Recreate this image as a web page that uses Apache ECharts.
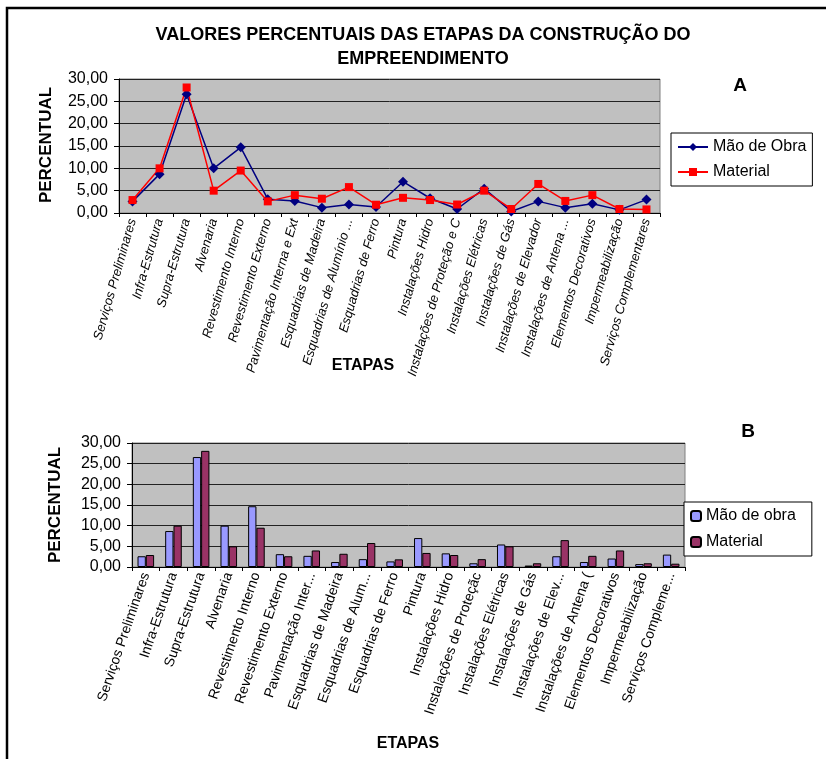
<!DOCTYPE html>
<html>
<head>
<meta charset="utf-8">
<script src="https://cdn.jsdelivr.net/npm/echarts@6/dist/echarts.min.js"></script>
<style>
html,body{margin:0;padding:0;background:#fff;}
#c{width:826px;height:759px;}
</style>
</head>
<body>
<div id="c"></div>
<script>
// ---- data ----
var categories = ['Serviços Preliminares','Infra-Estrutura','Supra-Estrutura','Alvenaria','Revestimento Interno','Revestimento Externo','Pavimentação Interna e Externa','Esquadrias de Madeira','Esquadrias de Alumínio','Esquadrias de Ferro','Pintura','Instalações Hidro','Instalações de Proteção e Combate','Instalações Elétricas','Instalações de Gás','Instalações de Elevador','Instalações de Antena','Elementos Decorativos','Impermeabilização','Serviços Complementares'];
var labelsA = ['Serviços Preliminares','Infra-Estrutura','Supra-Estrutura','Alvenaria','Revestimento Interno','Revestimento Externo','Pavimentação Interna e Ext','Esquadrias de Madeira','Esquadrias de Alumínio ...','Esquadrias de Ferro','Pintura','Instalações Hidro','Instalações de Proteção e C','Instalações Elétricas','Instalações de Gás','Instalações de Elevador','Instalações de Antena ...','Elementos Decorativos','Impermeabilização','Serviços Complementares'];
var labelsB = ['Serviços Preliminares','Infra-Estrutura','Supra-Estrutura','Alvenaria','Revestimento Interno','Revestimento Externo','Pavimentação Inter...','Esquadrias de Madeira','Esquadrias de Alum...','Esquadrias de Ferro','Pintura','Instalações Hidro','Instalações de Proteçãc','Instalações Elétricas','Instalações de Gás','Instalações de Elev...','Instalações de Antena (','Elementos Decorativos','Impermeabilização','Serviços Compleme...'];
var maoDeObra = [2.6, 8.7, 26.6, 10.0, 14.7, 3.1, 2.7, 1.2, 1.9, 1.35, 7.0, 3.3, 0.9, 5.45, 0.35, 2.6, 1.2, 2.05, 0.7, 3.0];
var material  = [2.9, 10.0, 28.1, 5.0, 9.5, 2.6, 4.0, 3.2, 5.8, 1.85, 3.4, 2.9, 1.9, 5.0, 0.9, 6.5, 2.7, 4.0, 0.9, 0.8];
var yTicks = [0, 5, 10, 15, 20, 25, 30];

var FONT = 'Liberation Sans, Arial, sans-serif';
function fmt(v){ return v.toFixed(2).replace('.', ','); }

var chart = echarts.init(document.getElementById('c'), null, {renderer:'canvas'});
var yCommon = {
  type:'value', min:yTicks[0], max:yTicks[yTicks.length-1], interval:yTicks[1]-yTicks[0],
  axisLine:{show:true, lineStyle:{color:'#000', width:1}},
  axisTick:{show:true, inside:false, length:5, lineStyle:{color:'#000'}},
  axisLabel:{formatter:fmt, color:'#000', fontFamily:FONT, fontSize:16, margin:11},
  splitLine:{show:true, lineStyle:{color:'#222', width:1}}
};
var xCommon = {
  type:'category', data:categories, boundaryGap:true,
  axisLine:{show:true, lineStyle:{color:'#000', width:1}},
  axisTick:{show:true, alignWithLabel:false, length:4, lineStyle:{color:'#000'}},
  splitLine:{show:false}
};
chart.setOption({
  animation:false,
  backgroundColor:'#fff',
  textStyle:{fontFamily:FONT},
  title:[{
    text:'VALORES PERCENTUAIS DAS ETAPAS DA CONSTRUÇÃO DO\nEMPREENDIMENTO',
    left:418, top:18, textAlign:'center',
    textStyle:{fontFamily:FONT, fontSize:18, fontWeight:'bold', color:'#000', lineHeight:24}
  }],
  grid:[
    {left:119, top:79, width:541, height:134, show:true, backgroundColor:'#C0C0C0', borderColor:'#808080', borderWidth:1},
    {left:132, top:443, width:553, height:124, show:true, backgroundColor:'#C0C0C0', borderColor:'#808080', borderWidth:1}
  ],
  xAxis:[
    Object.assign({}, xCommon, {gridIndex:0, axisLabel:{interval:0, rotate:74, margin:6, color:'#000', fontFamily:FONT, fontSize:13, fontStyle:'italic', formatter:function(v,i){return labelsA[i];}}}),
    Object.assign({}, xCommon, {gridIndex:1, axisLabel:{interval:0, rotate:71, margin:6, color:'#000', fontFamily:FONT, fontSize:14, formatter:function(v,i){return labelsB[i];}}})
  ],
  yAxis:[
    Object.assign({}, yCommon, {gridIndex:0}),
    Object.assign({}, yCommon, {gridIndex:1})
  ],
  legend:[
    {
      data:['Mão de Obra','Material'], orient:'vertical', left:671, top:133,
      itemWidth:30, itemHeight:10, itemGap:9,
      padding:[6,6,6,6],
      borderColor:'#000', borderWidth:1, backgroundColor:'#fff',
      textStyle:{fontFamily:FONT, fontSize:16, color:'#000'}
    },
    {
      data:['Mão de obra','Material '], orient:'vertical', left:684, top:502,
      itemWidth:10, itemHeight:10, itemGap:10,
      padding:[6,16,6,6],
      borderColor:'#000', borderWidth:1, backgroundColor:'#fff',
      textStyle:{fontFamily:FONT, fontSize:16, color:'#000'},
      formatter:function(n){return n.trim();}
    }
  ],
  series:[
    {name:'Mão de Obra', type:'line', xAxisIndex:0, yAxisIndex:0, data:maoDeObra,
     symbol:'diamond', symbolSize:10, lineStyle:{color:'#000080', width:1.5},
     itemStyle:{color:'#000080'}, color:'#000080'},
    {name:'Material', type:'line', xAxisIndex:0, yAxisIndex:0, data:material,
     symbol:'rect', symbolSize:8, lineStyle:{color:'#FF0000', width:1.5},
     itemStyle:{color:'#FF0000'}, color:'#FF0000'},
    {name:'Mão de obra', type:'bar', xAxisIndex:1, yAxisIndex:1, data:maoDeObra,
     barGap:'0%', barCategoryGap:'40%',
     itemStyle:{color:'#9999FF', borderColor:'#000', borderWidth:1}},
    {name:'Material ', type:'bar', xAxisIndex:1, yAxisIndex:1, data:material,
     barGap:'0%', barCategoryGap:'40%',
     itemStyle:{color:'#993366', borderColor:'#000', borderWidth:1}}
  ],
  graphic:[
    {type:'rect', shape:{x:7, y:8, width:850, height:800}, style:{fill:null, stroke:'#000', lineWidth:2.5}, silent:true},
    {type:'text', x:740, y:86, style:{text:'A', font:'bold 19px '+FONT, fill:'#000', align:'center', verticalAlign:'middle'}},
    {type:'text', x:748, y:432, style:{text:'B', font:'bold 19px '+FONT, fill:'#000', align:'center', verticalAlign:'middle'}},
    {type:'text', x:363, y:366, style:{text:'ETAPAS', font:'bold 16px '+FONT, fill:'#000', align:'center', verticalAlign:'middle'}},
    {type:'text', x:408, y:744, style:{text:'ETAPAS', font:'bold 16px '+FONT, fill:'#000', align:'center', verticalAlign:'middle'}},
    {type:'text', x:46, y:145, rotation:Math.PI/2, style:{text:'PERCENTUAL', font:'bold 17px '+FONT, fill:'#000', align:'center', verticalAlign:'middle'}},
    {type:'text', x:55, y:505, rotation:Math.PI/2, style:{text:'PERCENTUAL', font:'bold 17px '+FONT, fill:'#000', align:'center', verticalAlign:'middle'}}
  ]
});
</script>
</body>
</html>
